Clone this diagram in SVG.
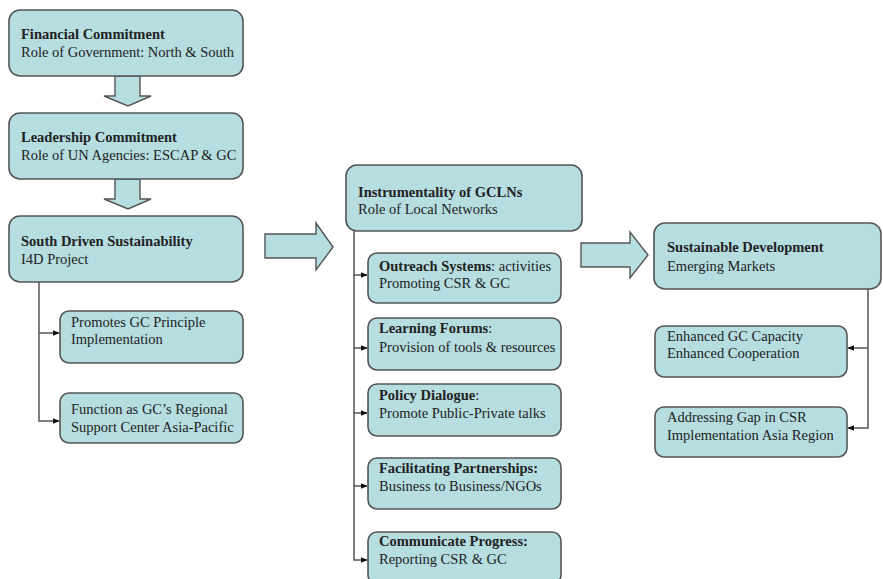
<svg xmlns="http://www.w3.org/2000/svg" width="883" height="579" viewBox="0 0 883 579">
<defs>
<style>
.box{fill:#b6dde0;stroke:#555;stroke-width:1.6}
.big{fill:#b6dde0;stroke:#555;stroke-width:1.4}
text{font-family:"Liberation Serif","Times New Roman",serif;font-size:14.5px;fill:#222}
.b{font-weight:bold}
.conn{fill:none;stroke:#555;stroke-width:1.5}
</style>
<marker id="ah" viewBox="0 0 10 10" refX="9" refY="5" markerWidth="7" markerHeight="7" markerUnits="userSpaceOnUse" orient="auto">
<path d="M0,1 L10,5 L0,9 z" fill="#111"/>
</marker>
</defs>
<rect width="883" height="579" fill="#fff"/>

<g id="arrows-big">
<path class="big" d="M115,76 L140,76 L140,96 L151,96 L128,106 L104,96 L115,96 z"/>
<path class="big" d="M115,179 L140,179 L140,199 L151,199 L128,209 L104,199 L115,199 z"/>
<path class="big" d="M265,234 L316,234 L316,223 L333,247 L316,270 L316,258 L265,258 z"/>
<path class="big" d="M581,243 L630,243 L630,232 L648,255 L630,278 L630,267 L581,267 z"/>
</g>

<g id="connectors">
<path class="conn" d="M39,282 L39,421 L59,421" marker-end="url(#ah)"/>
<path class="conn" d="M39,333 L59,333" marker-end="url(#ah)"/>
<path class="conn" d="M354,231 L354,560 L367,560" marker-end="url(#ah)"/>
<path class="conn" d="M354,275 L367,275" marker-end="url(#ah)"/>
<path class="conn" d="M354,348 L367,348" marker-end="url(#ah)"/>
<path class="conn" d="M354,413 L367,413" marker-end="url(#ah)"/>
<path class="conn" d="M354,486 L367,486" marker-end="url(#ah)"/>
<path class="conn" d="M868,289 L868,428 L848,428" marker-end="url(#ah)"/>
<path class="conn" d="M868,348 L848,348" marker-end="url(#ah)"/>
</g>

<g id="financial">
<rect class="box" x="9" y="10" width="234" height="66" rx="11"/>
<text x="21" y="39" class="b">Financial Commitment</text>
<text x="21" y="57">Role of Government: North &amp; South</text>
</g>
<g id="leadership">
<rect class="box" x="9" y="113" width="234" height="66" rx="11"/>
<text x="21" y="142" class="b">Leadership Commitment</text>
<text x="21" y="160">Role of UN Agencies: ESCAP &amp; GC</text>
</g>
<g id="south">
<rect class="box" x="9" y="216" width="234" height="66" rx="11"/>
<text x="21" y="246" class="b">South Driven Sustainability</text>
<text x="21" y="264">I4D Project</text>
</g>
<g id="promotes">
<rect class="box" x="60" y="311" width="183" height="52" rx="9"/>
<text x="71" y="327">Promotes GC Principle</text>
<text x="71" y="344">Implementation</text>
</g>
<g id="function">
<rect class="box" x="60" y="393" width="183" height="50" rx="9"/>
<text x="71" y="414">Function as GC’s Regional</text>
<text x="71" y="432">Support Center Asia-Pacific</text>
</g>

<g id="instrumentality">
<rect class="box" x="346" y="165" width="236" height="66" rx="11"/>
<text x="358" y="197" class="b">Instrumentality of GCLNs</text>
<text x="358" y="214">Role of Local Networks</text>
</g>
<g id="outreach">
<rect class="box" x="368" y="253" width="193" height="50" rx="9"/>
<text x="379" y="271"><tspan class="b">Outreach Systems</tspan>: activities</text>
<text x="379" y="288">Promoting CSR &amp; GC</text>
</g>
<g id="learning">
<rect class="box" x="368" y="318" width="193" height="52" rx="9"/>
<text x="379" y="333"><tspan class="b">Learning Forums</tspan>:</text>
<text x="379" y="352">Provision of tools &amp; resources</text>
</g>
<g id="policy">
<rect class="box" x="368" y="384" width="193" height="52" rx="9"/>
<text x="379" y="400"><tspan class="b">Policy Dialogue</tspan>:</text>
<text x="379" y="418">Promote Public-Private talks</text>
</g>
<g id="facilitating">
<rect class="box" x="368" y="458" width="193" height="51" rx="9"/>
<text x="379" y="473" class="b">Facilitating Partnerships:</text>
<text x="379" y="491">Business to Business/NGOs</text>
</g>
<g id="communicate">
<rect class="box" x="368" y="532" width="193" height="52" rx="9"/>
<text x="379" y="546" class="b">Communicate Progress:</text>
<text x="379" y="564">Reporting CSR &amp; GC</text>
</g>

<g id="sustainable">
<rect class="box" x="654" y="223" width="227" height="66" rx="11"/>
<text x="667" y="252" class="b">Sustainable Development</text>
<text x="667" y="271">Emerging Markets</text>
</g>
<g id="enhanced">
<rect class="box" x="655" y="326" width="192" height="51" rx="9"/>
<text x="667" y="341">Enhanced GC Capacity</text>
<text x="667" y="358">Enhanced Cooperation</text>
</g>
<g id="addressing">
<rect class="box" x="655" y="407" width="192" height="50" rx="9"/>
<text x="667" y="422">Addressing Gap in CSR</text>
<text x="667" y="440">Implementation Asia Region</text>
</g>
</svg>
